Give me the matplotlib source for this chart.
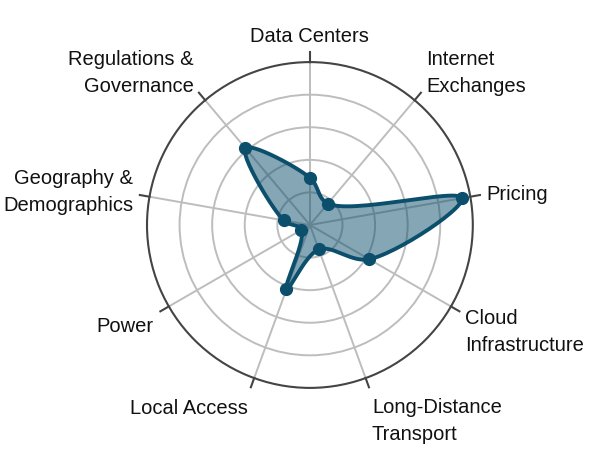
import matplotlib.pyplot as plt
import numpy as np

plt.rcParams['font.family'] = ['Liberation Sans', 'DejaVu Sans']

# categories, clockwise from the top
categories = ['Data Centers', 'Internet\nExchanges', 'Pricing', 'Cloud\nInfrastructure',
              'Long-Distance\nTransport', 'Local Access', 'Power',
              'Geography &\nDemographics', 'Regulations &\nGovernance']
values = [1.45, 0.86, 4.74, 2.1, 0.8, 2.1, 0.3, 0.82, 3.08]

line_color = '#0b4f6c'
r_max = 5
tick_r = r_max * 1.06


def spline_path(xs, ys, smooth=1.0, n=30):
    # closed catmull-rom style spline (like plotly line_shape='spline')
    pts = np.column_stack([xs, ys])
    m = len(pts)
    tang = []
    for i in range(m):
        prev, this, nxt = pts[i - 1], pts[i], pts[(i + 1) % m]
        d1 = prev - this
        d2 = nxt - this
        d1a = np.hypot(*d1) ** 0.5
        d2a = np.hypot(*d2) ** 0.5
        num = (d2a ** 2 * d1 - d1a ** 2 * d2) * smooth
        c_in = this + num / (3 * d2a * (d1a + d2a))
        c_out = this - num / (3 * d1a * (d1a + d2a))
        tang.append((c_in, c_out))
    t = np.linspace(0, 1, n)[:, None]
    out = []
    for i in range(m):
        p0 = pts[i]
        p3 = pts[(i + 1) % m]
        p1 = tang[i][1]
        p2 = tang[(i + 1) % m][0]
        seg = (1 - t) ** 3 * p0 + 3 * (1 - t) ** 2 * t * p1 + 3 * (1 - t) * t ** 2 * p2 + t ** 3 * p3
        out.append(seg)
    out = np.vstack(out)
    return out[:, 0], out[:, 1]


angles = np.arange(len(categories)) * 2 * np.pi / len(categories)
vals = np.array(values)

fig = plt.figure(figsize=(6, 4.5), dpi=100)
ax = fig.add_axes([0.245, 0.138, 0.543, 0.724], projection='polar')
ax.set_theta_zero_location('N')
ax.set_theta_direction(-1)
ax.set_ylim(0, r_max)

# smooth outline: work in x/y (x = r sin th, y = r cos th for north-clockwise)
x = vals * np.sin(angles)
y = vals * np.cos(angles)
sx, sy = spline_path(x, y)
th_s = np.arctan2(sx, sy)
r_s = np.hypot(sx, sy)

ax.fill(th_s, r_s, color=line_color, alpha=0.5, lw=0, zorder=3)
ax.plot(th_s, r_s, color=line_color, lw=2.8, zorder=4)
ax.plot(angles, vals, 'o', color=line_color, ms=8.5, zorder=5)

# grid
ax.set_yticks([1, 2, 3, 4])
ax.set_yticklabels([])
ax.set_xticks(angles)
ax.set_xticklabels([])
ax.grid(True, color='#bdbdbd', lw=1.4)
ax.spines['polar'].set_color('#444444')
ax.spines['polar'].set_linewidth(1.5)

# outside tick marks
for a in angles:
    ax.plot([a, a], [r_max, tick_r], color='#444444', lw=1.5, clip_on=False)

# labels: offset (pixels) from the tick end to the last-line baseline
label_pos = [
    ((0, 10), 'center'),
    ((5, 0.5), 'left'),
    ((6.5, -5), 'left'),
    ((6, -39.5), 'left'),
    ((3, -52.5), 'left'),
    ((-3, -26.5), 'right'),
    ((-7, -20.5), 'right'),
    ((-6.5, -16), 'right'),
    ((-5, 0.5), 'right'),
]
for a, lab, (off, ha) in zip(angles, categories, label_pos):
    ax.annotate(lab, xy=(a, tick_r), xytext=off, textcoords='offset pixels',
                ha=ha, va='baseline', fontsize=14.5, color='#111111',
                linespacing=1.52, annotation_clip=False)

fig.savefig('out.png', dpi=100)
